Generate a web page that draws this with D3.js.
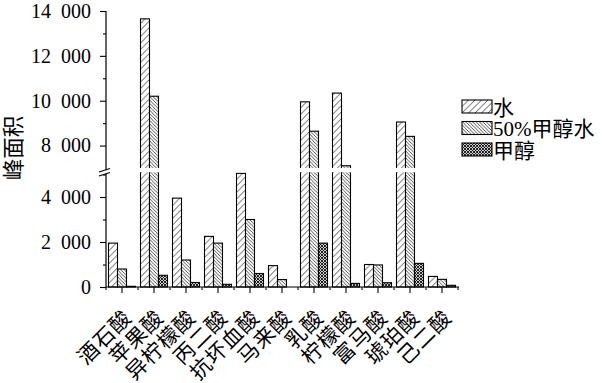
<!DOCTYPE html>
<html lang="zh">
<head>
<meta charset="UTF-8">
<title>峰面积</title>
<script src="https://cdn.jsdelivr.net/npm/d3@7"></script>
<style>
    body { margin: 0; background: #fff; }
    text { font-family: "Liberation Serif", "Noto Sans CJK SC", serif; fill: #000; }
</style>
</head>
<body>
<div id="chart"></div>
<script>
    // data
    var acids = ["酒石酸", "苹果酸", "异柠檬酸", "丙二酸", "抗坏血酸", "马来酸", "乳酸", "柠檬酸", "富马酸", "琥珀酸", "己二酸"];
    var seriesNames = ["水", "50%甲醇水", "甲醇"];
    var water = [1950, 13650, 3950, 2250, 5050, 950, 9950, 10340, 1000, 9050, 470];
    var methanolWater = [800, 10200, 1200, 1950, 3000, 330, 8640, 7100, 980, 8410, 340];
    var methanol = [30, 520, 200, 120, 600, 0, 1950, 160, 190, 1050, 75];
    var yMajor = [0, 2000, 4000, 8000, 10000, 12000, 14000];
    var yMinor = [1000, 3000, 5000, 9000, 11000, 13000];

    var series = [water, methanolWater, methanol];
    var fills = ["url(#pWater)", "url(#pMix)", "url(#pMeth)"];

    var W = 602, H = 383;
    var svg = d3.select("#chart").append("svg")
        .attr("width", W)
        .attr("height", H);

    /* hatch patterns */
    var defs = svg.append("defs");
    var p1 = defs.append("pattern").attr("id", "pWater")
        .attr("patternUnits", "userSpaceOnUse").attr("width", 6.5).attr("height", 6.5);
    p1.append("rect").attr("width", 6.5).attr("height", 6.5).attr("fill", "#fff");
    p1.append("path").attr("d", "M-1,7.5L7.5,-1M-1,1L1,-1M5.5,7.5L7.5,5.5")
        .attr("stroke", "#222").attr("stroke-width", 0.8);

    var p2 = defs.append("pattern").attr("id", "pMix")
        .attr("patternUnits", "userSpaceOnUse").attr("width", 3.4).attr("height", 3.4);
    p2.append("rect").attr("width", 3.4).attr("height", 3.4).attr("fill", "#fff");
    p2.append("path").attr("d", "M-1,-1L4.4,4.4M-1,2.4L1,4.4M2.4,-1L4.4,1")
        .attr("stroke", "#222").attr("stroke-width", 0.8);

    var p3 = defs.append("pattern").attr("id", "pMeth")
        .attr("patternUnits", "userSpaceOnUse").attr("width", 3).attr("height", 3);
    p3.append("rect").attr("width", 3).attr("height", 3).attr("fill", "#ccc");
    p3.append("path").attr("d", "M-1,-1L4,4M-1,4L4,-1M-1,2L1,4M2,-1L4,1M-1,1L1,-1M2,4L4,2")
        .attr("stroke", "#111").attr("stroke-width", 0.9);

    /* scales - broken y axis as a polylinear scale */
    var x = d3.scaleBand().domain(acids).range([106, 458]);
    var xs = d3.scaleBand().domain([0, 1, 2]).range([2.5, 29.5]);
    var y = d3.scaleLinear()
        .domain([0, 5100, 7000, 14000])
        .range([287, 172.25, 168, 11]);

    var groups = svg.append("g").selectAll("g")
        .data(acids)
        .enter().append("g")
        .attr("transform", function(d) { return "translate(" + x(d) + ",0)"; });

    groups.selectAll("rect")
        .data(function(d, i) { return series.map(function(s, k) { return {k: k, v: s[i]}; }); })
        .enter().append("rect")
        .attr("x", function(d) { return xs(d.k); })
        .attr("width", xs.bandwidth())
        .attr("y", function(d) { return y(d.v); })
        .attr("height", function(d) { return y(0) - y(d.v); })
        .attr("fill", function(d) { return fills[d.k]; })
        .attr("stroke", "#000")
        .attr("stroke-width", 1.1);

    // white gap where the axis is broken
    svg.append("rect")
        .attr("x", 106.5).attr("width", 354)
        .attr("y", y(7000)).attr("height", y(5100) - y(7000))
        .attr("fill", "#fff");

    /* y axis */
    var loc = d3.formatLocale({decimal: ".", thousands: "\u2002", grouping: [3], currency: ["", ""]});
    var fmt = loc.format(",");

    var yAxis = svg.append("g")
        .attr("transform", "translate(106,0)")
        .call(d3.axisLeft(y).tickValues(yMajor).tickSize(6).tickPadding(9).tickFormat(fmt));
    yAxis.select(".domain").remove();
    yAxis.selectAll("text").attr("font-size", 20).attr("font-family", "Liberation Serif");
    yAxis.selectAll("line").attr("stroke-width", 1.1);

    var yMin = svg.append("g")
        .attr("transform", "translate(106,0)")
        .call(d3.axisLeft(y).tickValues(yMinor).tickSize(3).tickFormat(""));
    yMin.select(".domain").remove();
    yMin.selectAll("line").attr("stroke-width", 1.1);

    svg.append("line").attr("x1", 106).attr("x2", 106)
        .attr("y1", y(14000)).attr("y2", 169.5)
        .attr("stroke", "#000").attr("stroke-width", 1.2);
    svg.append("line").attr("x1", 106).attr("x2", 106)
        .attr("y1", 174).attr("y2", y(0))
        .attr("stroke", "#000").attr("stroke-width", 1.2);
    // break marks
    svg.append("path")
        .attr("d", "M99,172L110,168.5M99,176L110,172.5")
        .attr("stroke", "#000").attr("stroke-width", 1.2).attr("fill", "none");

    /* x axis */
    svg.append("line").attr("x1", 106).attr("x2", 459)
        .attr("y1", y(0)).attr("y2", y(0))
        .attr("stroke", "#000").attr("stroke-width", 1.2);

    var xAxis = svg.append("g")
        .attr("transform", "translate(0," + y(0) + ")")
        .call(d3.axisBottom(x).tickSize(6).tickFormat(""));
    xAxis.select(".domain").remove();
    xAxis.selectAll("line").attr("stroke-width", 1.1);

    var bounds = acids.map(function(d) { return x(d); }).concat([x.range()[1]]);
    svg.append("g").selectAll("line")
        .data(bounds)
        .enter().append("line")
        .attr("x1", function(d) { return d; }).attr("x2", function(d) { return d; })
        .attr("y1", y(0)).attr("y2", y(0) + 3)
        .attr("stroke", "#000").attr("stroke-width", 1.1);

    svg.append("g").selectAll("text")
        .data(acids)
        .enter().append("text")
        .attr("transform", function(d) {
            return "translate(" + (x(d) + x.bandwidth() / 2 + 11) + ",319) rotate(-45)";
        })
        .attr("text-anchor", "end")
        .attr("font-size", 21)
        .attr("letter-spacing", 1)
        .text(function(d) { return d; });

    // y title
    svg.append("text")
        .attr("transform", "translate(21,148) rotate(-90)")
        .attr("text-anchor", "middle")
        .attr("font-size", 21.5)
        .text("峰面积");

    /* legend */
    var legend = svg.append("g").attr("transform", "translate(462,100)");
    var li = legend.selectAll("g")
        .data(seriesNames)
        .enter().append("g")
        .attr("transform", function(d, i) { return "translate(0," + (i * 21.5) + ")"; });
    li.append("rect")
        .attr("width", 30).attr("height", 13)
        .attr("fill", function(d, i) { return fills[i]; })
        .attr("stroke", "#000").attr("stroke-width", 1.1);
    li.append("text")
        .attr("x", 31).attr("y", 14.5)
        .attr("font-size", 21)
        .attr("font-family", "Liberation Serif, Noto Sans CJK SC")
        .text(function(d) { return d; });
</script>
</body>
</html>
